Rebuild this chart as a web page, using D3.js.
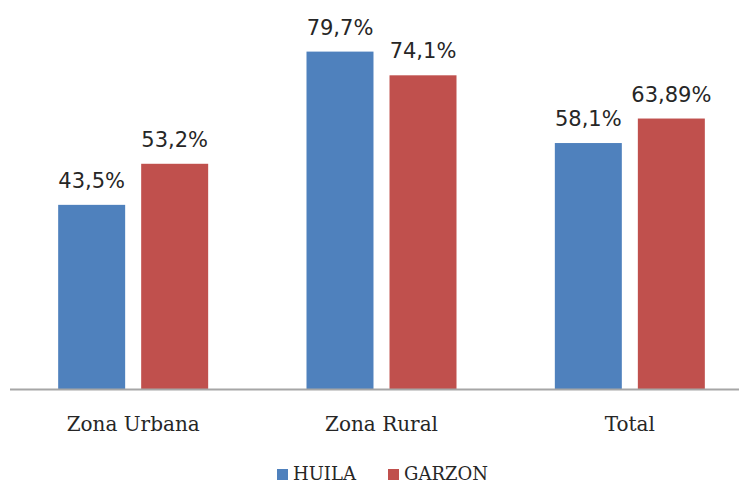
<!DOCTYPE html>
<html>
<head>
<meta charset="utf-8">
<script src="https://cdn.jsdelivr.net/npm/d3@7"></script>
<style>
  html, body { margin: 0; padding: 0; background: #ffffff; }
  svg { display: block; }
</style>
</head>
<body>
<svg id="chart" width="739" height="482"></svg>
<script>
// Zones compared and the two series
const categories = ["Zona Urbana", "Zona Rural", "Total"];
const seriesNames = ["HUILA", "GARZON"];
const huila = [43.5, 79.7, 58.1];
const garzon = [53.2, 74.1, 63.89];
const huilaLabels = ["43,5%", "79,7%", "58,1%"];
const garzonLabels = ["53,2%", "74,1%", "63,89%"];
const colors = ["#4f81bd", "#c0504d"];

const svg = d3.select("#chart");
const W = 739, H = 482;

const x0 = d3.scaleBand().domain(categories).range([9, 754]).paddingInner(0).paddingOuter(0);
const half = 75;
const x1 = d3.scaleBand().domain(seriesNames)
  .range([x0.bandwidth() / 2 - half, x0.bandwidth() / 2 + half])
  .paddingInner(0.193).paddingOuter(0);
const y = d3.scaleLinear().domain([0, 90]).range([389, 8]);

const rows = categories.map((c, i) => ({
  cat: c,
  vals: [
    { s: "HUILA", v: huila[i], label: huilaLabels[i] },
    { s: "GARZON", v: garzon[i], label: garzonLabels[i] }
  ]
}));

const groups = svg.selectAll("g.grp").data(rows).enter().append("g")
  .attr("class", "grp")
  .attr("transform", d => `translate(${x0(d.cat)},0)`);

groups.selectAll("rect").data(d => d.vals).enter().append("rect")
  .attr("x", d => x1(d.s))
  .attr("y", d => y(d.v))
  .attr("width", x1.bandwidth())
  .attr("height", d => y(0) - y(d.v))
  .attr("fill", (d, i) => colors[i]);

groups.selectAll("text.val").data(d => d.vals).enter().append("text")
  .attr("class", "val")
  .attr("x", d => x1(d.s) + x1.bandwidth() / 2)
  .attr("y", d => y(d.v) - 17)
  .attr("text-anchor", "middle")
  .attr("font-family", "DejaVu Sans, sans-serif")
  .attr("font-size", 21)
  .attr("fill", "#262626")
  .text(d => d.label);

// Category axis along the baseline
const xAxis = d3.axisBottom(x0).tickSize(0).tickPadding(0);
const axisG = svg.append("g").attr("transform", `translate(0,${y(0)})`).call(xAxis);
axisG.select(".domain").remove();
axisG.selectAll("text")
  .attr("dy", null)
  .attr("y", 42)
  .attr("font-family", "DejaVu Serif, serif")
  .attr("font-size", 20)
  .attr("fill", "#262626");
svg.append("line")
  .attr("x1", 10).attr("x2", W)
  .attr("y1", y(0) + 0.5).attr("y2", y(0) + 0.5)
  .attr("stroke", "#a6a6a6").attr("stroke-width", 2);

// Legend
const legendX = [277, 388];
const legend = svg.selectAll("g.leg").data(seriesNames).enter().append("g")
  .attr("class", "leg")
  .attr("transform", (d, i) => `translate(${legendX[i]},469)`);
legend.append("rect").attr("width", 11).attr("height", 11).attr("fill", (d, i) => colors[i]);
legend.append("text")
  .attr("x", 16).attr("y", 10.5)
  .attr("font-family", "DejaVu Serif, serif")
  .attr("font-size", 18)
  .attr("fill", "#262626")
  .text(d => d);
</script>
</body>
</html>
